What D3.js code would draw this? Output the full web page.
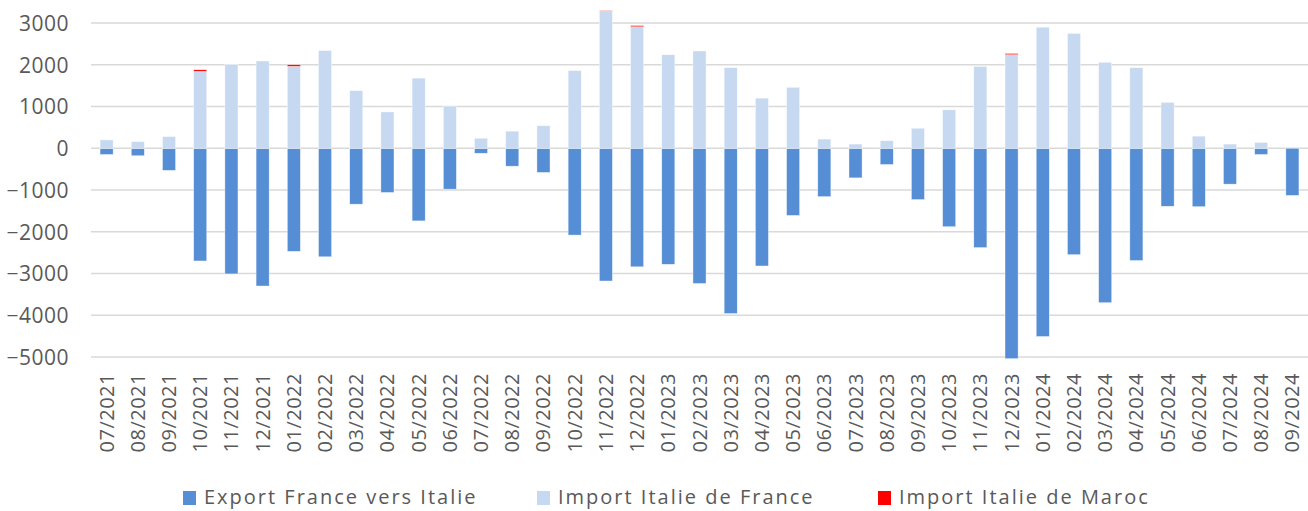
<!DOCTYPE html>
<html><head><meta charset="utf-8">
<script src="https://cdn.jsdelivr.net/npm/d3@7"></script>
<style>body{margin:0;background:#fff}svg{display:block}text{font-family:"Open Sans",sans-serif;fill:#595959}</style>
</head><body><svg id="c" width="1308" height="511"></svg>
<script>
const months = ["07/2021","08/2021","09/2021","10/2021","11/2021","12/2021","01/2022","02/2022","03/2022","04/2022","05/2022","06/2022","07/2022","08/2022","09/2022","10/2022","11/2022","12/2022","01/2023","02/2023","03/2023","04/2023","05/2023","06/2023","07/2023","08/2023","09/2023","10/2023","11/2023","12/2023","01/2024","02/2024","03/2024","04/2024","05/2024","06/2024","07/2024","08/2024","09/2024"];
const exportFrIt = [-150,-180,-530,-2700,-3010,-3300,-2470,-2600,-1340,-1060,-1740,-980,-120,-430,-580,-2080,-3180,-2840,-2780,-3240,-3960,-2820,-1610,-1160,-710,-390,-1230,-1880,-2380,-5040,-4510,-2550,-3700,-2690,-1390,-1400,-860,-150,-1130];
const importItFr = [200,160,280,1840,2010,2090,1960,2340,1380,870,1680,1010,240,410,540,1860,3280,2910,2240,2330,1930,1200,1460,220,100,180,480,920,1960,2240,2900,2750,2060,1930,1100,290,100,140,0];
const importItMa = [0,0,0,40,0,0,40,0,0,0,0,0,0,0,0,0,15,30,0,0,0,0,0,0,0,0,0,0,0,30,0,0,0,0,0,0,0,0,0];
const yTicks = [-5000,-4000,-3000,-2000,-1000,0,1000,2000,3000];
const seriesNames = ["Export France vers Italie","Import Italie de France","Import Italie de Maroc"];
const colors = ["#558ed5","#c6d9f1","#ff0000"];

const svg = d3.select("#c");
const x = d3.scaleBand().domain(months).range([91,1308]).paddingInner(0.58).paddingOuter(0.29);
const y = d3.scaleLinear().domain([-5000,3000]).range([357,23]);

// gridlines
svg.append("g").selectAll("line").data(yTicks).join("line")
  .attr("x1",91).attr("x2",1308).attr("y1",d=>y(d)).attr("y2",d=>y(d))
  .attr("stroke","#d9d9d9").attr("stroke-width",1.5);

// y axis labels
const yAxis = d3.axisLeft(y).tickValues(yTicks).tickSize(0).tickPadding(0).tickFormat(d3.format("d"));
const ga = svg.append("g").attr("transform","translate(69,0)").call(yAxis);
ga.select(".domain").remove();
ga.selectAll("text").attr("font-size",21).attr("letter-spacing",0.5).attr("fill","#595959").attr("font-family","Open Sans").attr("dy","0.35em");

// stacked data
const rows = months.map((m,i)=>({m, e:exportFrIt[i], f:importItFr[i], r:importItMa[i]}));
const stack = d3.stack().keys(["e","f","r"]).offset(d3.stackOffsetDiverging);
const layers = stack(rows);

svg.append("g").selectAll("g").data(layers).join("g")
  .attr("fill",(d,i)=>colors[i])
  .selectAll("rect").data(d=>d).join("rect")
  .attr("x",d=>x(d.data.m)).attr("width",x.bandwidth())
  .attr("y",d=>y(Math.max(d[0],d[1])))
  .attr("height",d=>Math.abs(y(d[0])-y(d[1])))
  .attr("stroke","#ffffff").attr("stroke-width",0.6).attr("stroke-opacity",0.7);

// x axis labels
const xAxis = d3.axisBottom(x).tickSize(0).tickPadding(0);
const gx = svg.append("g").attr("transform","translate(0,373)").call(xAxis);
gx.select(".domain").remove();
gx.selectAll("text").attr("font-size",20).attr("letter-spacing",0.5).attr("fill","#595959").attr("font-family","Open Sans")
  .attr("text-anchor","end").attr("transform","rotate(-90)").attr("x",0).attr("y",0).attr("dy","0.35em").attr("dx",0);

// legend
const legX = [183,537,878];
const lg = svg.append("g");
seriesNames.forEach((n,i)=>{
  lg.append("rect").attr("x",legX[i]).attr("y",491).attr("width",13).attr("height",14).attr("fill",colors[i]);
  lg.append("text").attr("x",legX[i]+21).attr("y",497).attr("dy","0.35em").attr("font-size",20).attr("letter-spacing",2).attr("fill","#595959").text(n);
});
</script></body></html>
